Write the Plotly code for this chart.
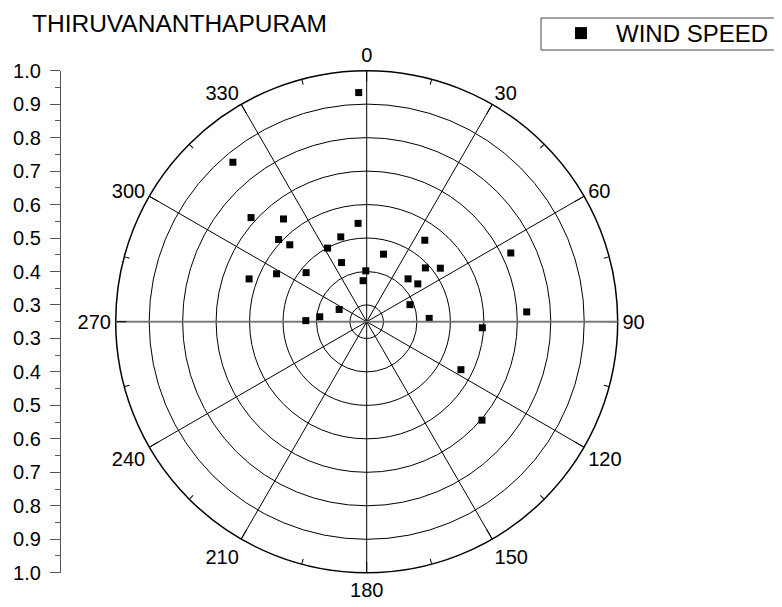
import plotly.graph_objects as go

# ---- data (wind direction in degrees, wind speed) ----
direction_deg = [358, 320, 312, 321, 313, 315, 355, 343, 332, 14, 337, 359, 355,
                 290, 298, 309, 294, 276, 271, 35.5, 47.5, 54, 44, 53.5, 68.5,
                 87, 64.5, 86.5, 93, 117, 130.5]
wind_speed = [0.935, 0.872, 0.715, 0.645, 0.61, 0.575, 0.545, 0.515, 0.499, 0.458,
              0.442, 0.402, 0.373, 0.624, 0.555, 0.483, 0.34, 0.391, 0.432, 0.549,
              0.488, 0.522, 0.428, 0.44, 0.389, 0.437, 0.727, 0.729, 0.596, 0.566,
              0.703]

angle_ticks = [0, 30, 60, 90, 120, 150, 180, 210, 240, 270, 300, 330]
angle_minor = [15, 45, 75, 105, 135, 165, 195, 225, 255, 285, 315, 345]
radial_ticks = [0.3, 0.4, 0.5, 0.6, 0.7, 0.8, 0.9, 1.0]
radial_min = 0.25
radial_max = 1.0

W, H = 782, 607
OFF = 8  # page body margin offset
cx, cy, R = 366.7 - OFF, 321.7 - OFF, 251.0
FONT = "Arial, Liberation Sans, sans-serif"

def px(x):
    return (x - OFF) / W

def py(y):
    return 1 - (y - OFF) / H

dom_x = [(cx - R) / W, (cx + R) / W]
dom_y = [(H - cy - R) / H, (H - cy + R) / H]

fig = go.Figure()

fig.add_trace(go.Scatter(x=[None], y=[None], xaxis="x", yaxis="y",
                         showlegend=False, hoverinfo="skip"))
fig.add_trace(go.Scatterpolar(r=[None], theta=[None], subplot="polar",
                              showlegend=False, hoverinfo="skip"))
fig.add_trace(go.Scatterpolar(
    r=wind_speed, theta=direction_deg, subplot="polar2", mode="markers",
    name="WIND SPEED",
    marker=dict(symbol="square", size=7, color="black", line=dict(width=0)),
))

span = radial_max - radial_min
yt = [v - radial_min for v in radial_ticks] + [-(v - radial_min) for v in radial_ticks]
ytext = [f"{v:.1f}" for v in radial_ticks] * 2
minor_vals = [0.0] + [k * 0.1 for k in range(1, 8)] + [-k * 0.1 for k in range(1, 8)]

polar_common_radial = dict(range=[radial_min, radial_max], showticklabels=False, ticks="")

fig.update_layout(
    width=W, height=H,
    margin=dict(l=0, r=0, t=0, b=0, pad=0, autoexpand=False),
    paper_bgcolor="white", plot_bgcolor="white",
    font=dict(family=FONT, color="black"),
    title=dict(text="THIRUVANANTHAPURAM", x=px(32), xanchor="left",
               y=py(23), yanchor="middle", xref="paper",
               font=dict(size=24.5, family=FONT, color="black")),
    showlegend=True,
    legend=dict(x=px(546), y=py(11), xanchor="left", yanchor="top",
                borderwidth=0, bgcolor="rgba(0,0,0,0)",
                font=dict(size=24, family=FONT, color="black"),
                itemsizing="constant", itemwidth=60),
    shapes=[dict(type="rect", xref="paper", yref="paper",
                 x0=px(541), x1=1.05, y0=py(50), y1=py(18),
                 line=dict(color="#444", width=1), fillcolor="rgba(0,0,0,0)",
                 layer="above")],
    xaxis=dict(domain=[px(60), px(62)], visible=False, range=[0, 1]),
    yaxis=dict(domain=dom_y, anchor="free", position=px(60), side="left",
               range=[-span, span], tickmode="array", tickvals=yt, ticktext=ytext,
               ticks="outside", ticklen=10, tickwidth=1, tickcolor="#555",
               ticklabelstandoff=5,
               showline=True, linecolor="#555", linewidth=1.2,
               showgrid=False, zeroline=False, automargin=False,
               tickfont=dict(size=20, family=FONT, color="black"),
               minor=dict(tickvals=minor_vals, ticks="outside", ticklen=5,
                          tickcolor="#555", showgrid=False)),
    polar=dict(
        domain=dict(x=dom_x, y=dom_y),
        bgcolor="white",
        radialaxis=dict(**polar_common_radial, tickvals=radial_ticks,
                        showgrid=True, gridcolor="black", gridwidth=1,
                        showline=True, linecolor="#777", linewidth=1.8, angle=180),
        angularaxis=dict(rotation=90, direction="clockwise", tickmode="array",
                         tickvals=angle_ticks, ticktext=[str(a) for a in angle_ticks],
                         ticks="inside", ticklen=10, tickcolor="black", tickwidth=1,
                         showgrid=True, gridcolor="black", gridwidth=1,
                         showline=True, linecolor="black", linewidth=1.5,
                         tickfont=dict(size=20, family=FONT, color="black")),
    ),
    polar2=dict(
        domain=dict(x=dom_x, y=dom_y),
        bgcolor="rgba(0,0,0,0)",
        radialaxis=dict(**polar_common_radial, showgrid=False,
                        showline=True, linecolor="#777", linewidth=1.8, angle=0),
        angularaxis=dict(rotation=90, direction="clockwise", tickmode="array",
                         tickvals=angle_minor, ticks="inside", ticklen=5,
                         tickcolor="black", tickwidth=1, showticklabels=False,
                         showgrid=False, showline=False),
    ),
)

fig.write_html("out.html")
